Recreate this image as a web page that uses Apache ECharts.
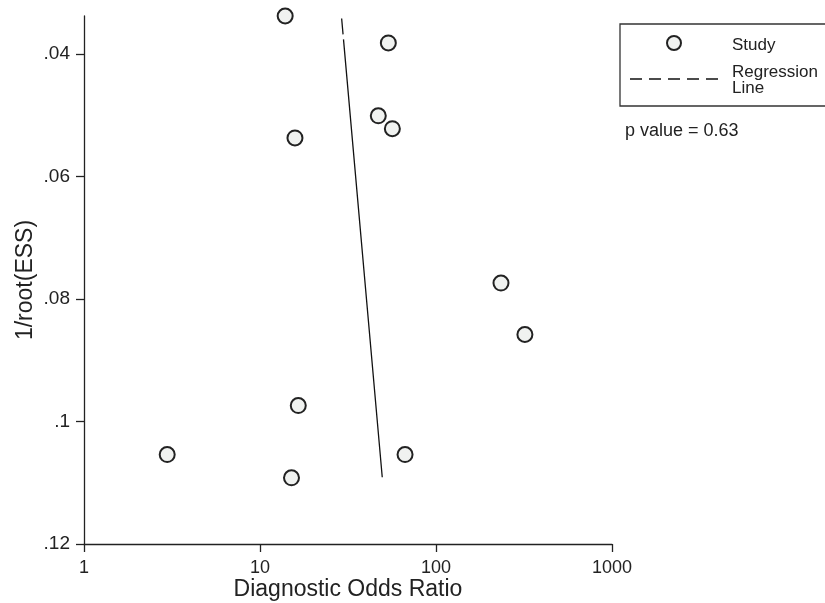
<!DOCTYPE html>
<html>
<head>
<meta charset="utf-8">
<script src="https://cdn.jsdelivr.net/npm/echarts@6/dist/echarts.min.js"></script>
<style>html,body{margin:0;padding:0;background:#fff}#c{width:825px;height:603px}</style>
</head>
<body>
<div id="c"></div>
<script>
// Study points: [Diagnostic Odds Ratio, 1/root(ESS)]
const studyDOR = [13.9, 53.6, 47.0, 56.5, 15.8, 234, 320, 16.5, 2.97, 15.1, 66.7];
const studyInvESS = [0.0338, 0.0382, 0.0501, 0.0522, 0.0537, 0.0774, 0.0858, 0.0974, 0.1054, 0.1092, 0.1054];
// Regression line endpoints
const regDOR = [29.1, 49.5];
const regInvESS = [0.0342, 0.1091];
const xTicks = [1, 10, 100, 1000];
const yTicks = [0.04, 0.06, 0.08, 0.10, 0.12];
const yTickLabels = ['.04', '.06', '.08', '.1', '.12'];
const pValueText = 'p value = 0.63';

const font = 'Liberation Sans, Arial, Helvetica, sans-serif';
const chart = echarts.init(document.getElementById('c'));
const axisColor = '#222';

chart.setOption({
  animation: false,
  grid: { left: 84, right: 213, top: 16, bottom: 59, outerBoundsMode: 'none', containLabel: false },
  xAxis: {
    type: 'log', logBase: 10, min: 1, max: 1000,
    name: 'Diagnostic Odds Ratio', nameLocation: 'middle', nameGap: 34, nameMoveOverlap: false,
    nameTextStyle: { fontFamily: font, fontSize: 23, color: axisColor },
    axisLine: { show: true, lineStyle: { color: axisColor, width: 1.3 } },
    axisTick: { show: true, inside: false, length: 8, customValues: xTicks, lineStyle: { color: axisColor, width: 1.3 } },
    axisLabel: { fontFamily: font, fontSize: 18, color: axisColor, margin: 15,
      customValues: xTicks,
      formatter: function (v) { return String(Math.round(v)); } },
    splitLine: { show: false }, minorTick: { show: false }
  },
  yAxis: {
    type: 'value', inverse: true, min: 0.0338, max: 0.12,
    name: '1/root(ESS)', nameLocation: 'middle', nameGap: 47, nameRotate: 90, nameMoveOverlap: false,
    nameTextStyle: { fontFamily: font, fontSize: 23, color: axisColor },
    axisLine: { show: true, lineStyle: { color: axisColor, width: 1.3 } },
    axisTick: { show: true, inside: false, length: 8, customValues: yTicks, lineStyle: { color: axisColor, width: 1.3 } },
    axisLabel: {
      fontFamily: font, fontSize: 19, color: axisColor, margin: 14,
      customValues: yTicks,
      formatter: function (v) {
        for (let i = 0; i < yTicks.length; i++) if (Math.abs(yTicks[i] - v) < 1e-9) return yTickLabels[i];
        return '';
      }
    },
    splitLine: { show: false }
  },
  series: [
    {
      type: 'line',
      data: regDOR.map((d, i) => [d, regInvESS[i]]),
      symbol: 'none',
      lineStyle: { color: '#111', width: 1.3, type: [16, 5, 600, 0] },
      z: 1
    },
    {
      type: 'scatter',
      data: studyDOR.map((d, i) => [d, studyInvESS[i]]),
      symbol: 'circle', symbolSize: 15,
      itemStyle: { color: '#f0f2f0', borderColor: '#222', borderWidth: 2, opacity: 1 },
      z: 2
    }
  ],
  graphic: [
    { type: 'rect', shape: { x: 620, y: 24, width: 220, height: 82 },
      style: { fill: '#fff', stroke: '#333', lineWidth: 1.3 } },
    { type: 'circle', shape: { cx: 674, cy: 43, r: 7 },
      style: { fill: '#f0f2f0', stroke: '#222', lineWidth: 2 } },
    { type: 'text', x: 732, y: 45, style: { text: 'Study', font: '17px ' + font, fill: '#222', verticalAlign: 'middle' } },
    { type: 'line', shape: { x1: 630, y1: 79, x2: 718, y2: 79 },
      style: { stroke: '#111', lineWidth: 1.3, lineDash: [12, 7] } },
    { type: 'text', x: 732, y: 72, style: { text: 'Regression', font: '17px ' + font, fill: '#222', verticalAlign: 'middle' } },
    { type: 'text', x: 732, y: 88, style: { text: 'Line', font: '17px ' + font, fill: '#222', verticalAlign: 'middle' } },
    { type: 'text', x: 625, y: 131, style: { text: pValueText, font: '18px ' + font, fill: '#222', verticalAlign: 'middle' } }
  ]
});
</script>
</body>
</html>
